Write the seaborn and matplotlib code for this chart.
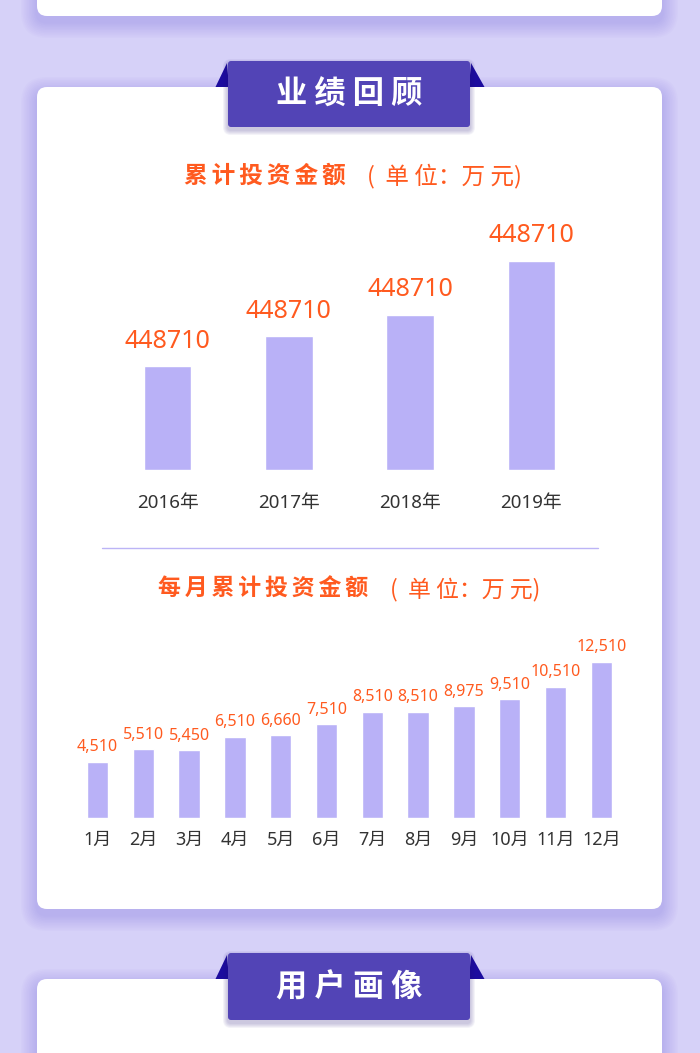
import matplotlib
matplotlib.use("Agg")
import matplotlib.pyplot as plt
import seaborn as sns
from matplotlib.patches import FancyBboxPatch, Polygon

# ---------------- data ----------------
years = ["2016年", "2017年", "2018年", "2019年"]
year_heights = [104, 134, 155, 209]          # bar heights as drawn (relative units)
year_labels = ["448710", "448710", "448710", "448710"]

months = ["1月", "2月", "3月", "4月", "5月", "6月", "7月", "8月", "9月", "10月", "11月", "12月"]
month_values = [4510, 5510, 5450, 6510, 6660, 7510, 8510, 8510, 8975, 9510, 10510, 12510]

SP = "\u2006"
section_titles = ["业 绩 回 顾", "用 户 画 像"]
chart1_title = [SP.join("累计投资金额"), "(  单 位：万 元)"]
chart2_title = [SP.join("每月累计投资金额"), "(  单 位：万 元)"]

# ---------------- style ----------------
BG = "#d6d1f8"
BAR = "#b9b1f7"
ORANGE = "#ff5a1f"
BANNER = "#5244b6"
EAR = "#1c0c9e"
SHADOW = "#7b6be0"
TICK = "#333333"

W, H = 700, 1053
sns.set_theme(style="white")
plt.rcParams["font.family"] = ["Noto Sans", "Noto Sans CJK SC", "DejaVu Sans"]

fig = plt.figure(figsize=(W / 100, H / 100), dpi=100, facecolor=BG)
bg = fig.add_axes([0, 0, 1, 1])
bg.set_xlim(0, W)
bg.set_ylim(H, 0)
bg.axis("off")
bg.set_zorder(0)


def ax_at(left, top, right, bottom):
    a = fig.add_axes([left / W, 1 - bottom / H, (right - left) / W, (bottom - top) / H])
    a.set_zorder(2)
    a.patch.set_alpha(0)
    return a


def card(x0, y0, x1, y1, r=10):
    for i in range(10):
        pad = 1.6 * (i + 1)
        bg.add_patch(FancyBboxPatch((x0 - pad, y0 - pad + 6), (x1 - x0) + 2 * pad,
                                    (y1 - y0) + 2 * pad,
                                    boxstyle=f"round,pad=0,rounding_size={r + pad}",
                                    fc=SHADOW, ec="none", alpha=0.03, zorder=1))
    bg.add_patch(FancyBboxPatch((x0, y0), x1 - x0, y1 - y0,
                                boxstyle=f"round,pad=0,rounding_size={r}",
                                fc="white", ec="none", zorder=2))


def banner(x0, y0, x1, y1, base, text):
    bg.add_patch(Polygon([(x0 - 12.5, base), (x0 + 1, base), (x0 - 1, y0 + 2)],
                         closed=True, fc=EAR, ec="none", zorder=3))
    bg.add_patch(Polygon([(x1 - 1, base), (x1 + 14.5, base), (x1 + 1, y0 + 2)],
                         closed=True, fc=EAR, ec="none", zorder=3))
    for i in range(5):
        pad = 1.0 * (i + 1)
        bg.add_patch(FancyBboxPatch((x0 - pad, y0 - pad + 3), (x1 - x0) + 2 * pad,
                                    (y1 - y0) + 2 * pad,
                                    boxstyle=f"round,pad=0,rounding_size={3 + pad}",
                                    fc="#2a1a80", ec="none", alpha=0.05, zorder=3))
    bg.add_patch(FancyBboxPatch((x0, y0), x1 - x0, y1 - y0,
                                boxstyle="round,pad=0,rounding_size=3",
                                fc=BANNER, ec="none", zorder=4))
    bg.text((x0 + x1) / 2, (y0 + y1) / 2 + 1, text, ha="center", va="center",
            color="white", fontsize=22.5, fontweight="bold",
            family=["Noto Sans CJK SC"], zorder=5)


# cards and banners
card(37, -40, 662, 16)
card(37, 87, 662, 909)
card(37, 979, 662, 1120)
banner(228, 61, 470, 127, 87, section_titles[0])
banner(228, 953, 470, 1020, 979, section_titles[1])


# titles
def title(parts, x_split, x_paren, y, size):
    bg.text(x_split, y, parts[0], ha="right", va="center", color=ORANGE,
            fontsize=size, fontweight="bold",
            family=["Noto Sans CJK SC", "DejaVu Sans"], zorder=5)
    bg.text(x_paren, y, parts[1], ha="left", va="center", color=ORANGE,
            fontsize=size, family=["Noto Sans CJK SC"], zorder=5)


title(chart1_title, 346, 367, 176, 17)
title(chart2_title, 368, 390, 589, 16.5)

# separator
bg.plot([101.5, 598], [547.5, 547.5], color="#bcb4f6", lw=1.0, zorder=5)

# ---------------- chart 1: yearly ----------------
ax1 = ax_at(107, 200, 592, 470)
sns.barplot(x=years, y=year_heights, ax=ax1, color=BAR, saturation=1, width=0.39)
ax1.set_ylim(0, 270)
ax1.bar_label(ax1.containers[0], labels=year_labels, padding=9, color=ORANGE, fontsize=18)

# ---------------- chart 2: monthly ----------------
ax2 = ax_at(74.6, 600, 624.2, 818)
sns.barplot(x=months, y=month_values, ax=ax2, color=BAR, saturation=1, width=0.47)
ax2.set_ylim(0, 12510 * 218 / 156.3)
ax2.bar_label(ax2.containers[0], labels=[f"{v:,}" for v in month_values],
              padding=4.5, color=ORANGE, fontsize=11.5)

for ax, pad, size in ((ax1, 17, 13.5), (ax2, 9, 13)):
    ax.set_xlabel("")
    ax.set_ylabel("")
    ax.set_yticks([])
    for s in ax.spines.values():
        s.set_visible(False)
    ax.tick_params(axis="x", length=0, pad=pad, labelsize=size, labelcolor=TICK)
    ax.grid(False)

fig.savefig("out.png", dpi=100, facecolor=BG)
